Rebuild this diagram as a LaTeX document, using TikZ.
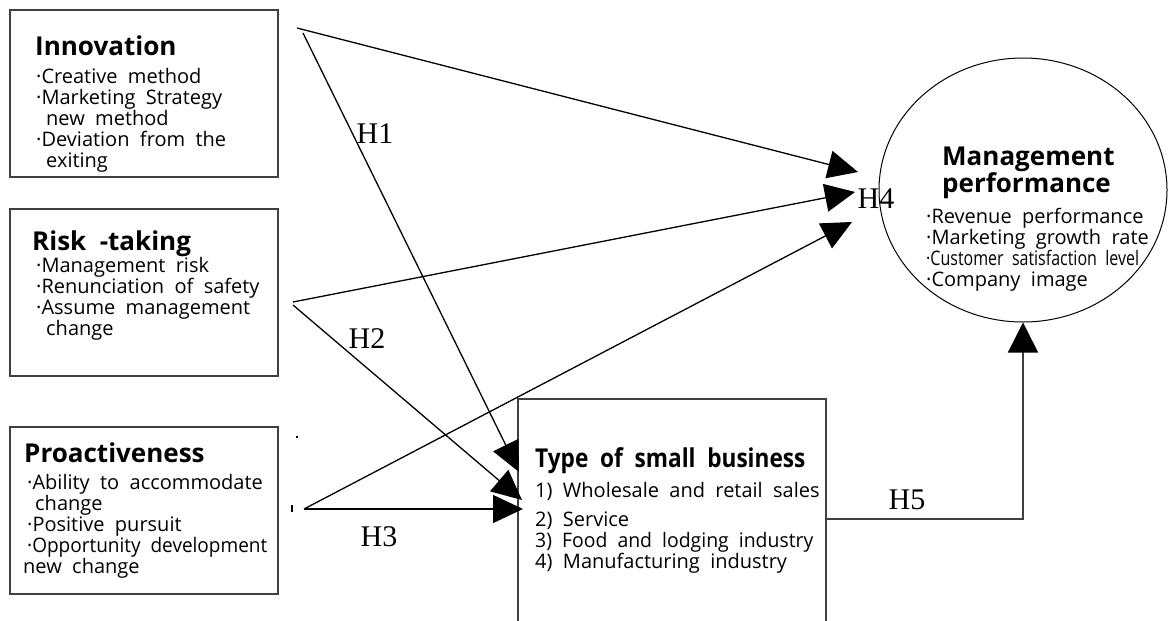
\documentclass[tikz,border=0pt]{standalone}
\usepackage{fontspec}
\setmainfont[WordSpace=2]{Open Sans}
\newfontfamily\hfont{Liberation Serif}
\usetikzlibrary{arrows.meta,shapes.geometric}
\definecolor{boxgray}{HTML}{404040}
\tikzset{
  box/.style={draw=boxgray, line width=1.5pt, rectangle, inner sep=0pt, anchor=north west},
  ttl/.style={anchor=base west, inner sep=0pt, align=left, font=\fontsize{26}{27}\bfseries\selectfont},
  body/.style={anchor=base west, inner sep=0pt, align=left, font=\fontsize{20}{21}\selectfont},
  hlab/.style={inner sep=0pt, font=\hfont\fontsize{30}{30}\selectfont},
  arr/.style={-{Triangle[length=30pt,width=28pt]}, line width=1.3pt},
}
\begin{document}
\begin{tikzpicture}[x=1pt,y=-1pt]
\useasboundingbox (0,0) rectangle (1170,621);
% boxes
\node[box, minimum width=268pt, minimum height=167pt] (inno) at (9,9) {};
\node[box, minimum width=268pt, minimum height=167pt] (risk) at (9,208) {};
\node[box, minimum width=268pt, minimum height=167pt] (proa) at (9,426) {};
\node[box, minimum width=308pt, minimum height=240pt] (type) at (517,398) {};
\node[draw, ellipse, line width=1pt, minimum width=288pt, minimum height=264pt, inner sep=0pt] (perf) at (1023,190) {};
% texts (anchor base = baseline of the last line)
\node[ttl] (innoT) at (35,55) {Innovation};
\node[body] (innoB) at (36,167) {·Creative method\\·Marketing Strategy\\\hspace*{10pt}new method\\·Deviation from the\\\hspace*{10pt}exiting};
\node[ttl] (riskT) at (32,250) {Risk -taking};
\node[body] (riskB) at (36,335) {·Management risk\\·Renunciation of safety\\·Assume management\\\hspace*{10pt}change};
\node[ttl] (proaT) at (24,462) {Proactiveness};
\node[body] (proaB) at (27,573) {·Ability to accommodate\\\hspace*{8pt}change\\·Positive pursuit\\\scalebox{0.95}[1]{·Opportunity development}\\\hspace*{-4pt}new change};
\node[ttl] (typeT) at (535,467) {\scalebox{0.87}[1]{Type of small business}};
\node[body] (typeB) at (535,568) {1) Wholesale and retail sales\\[8pt]2) Service\\\scalebox{0.97}[1]{3) Food and lodging industry}\\4) Manufacturing industry};
\node[ttl] (perfT) at (942,192) {Management\\performance};
\node[body] (perfB) at (926,286) {·Revenue performance\\·Marketing growth rate\\\scalebox{0.8}[1]{·Customer satisfaction level}\\·Company image};
% connector end points
\coordinate (s1) at (297,28);
\coordinate (s1b) at (303,33);
\coordinate (s2) at (293,302);
\coordinate (s2b) at (293,305);
\coordinate (s3) at (304,509);
\coordinate (e1) at (858,172);
\coordinate (e2) at (855,192);
\coordinate (e3) at (852,222);
\coordinate (t1) at (519,472);
\coordinate (t2) at (522,500);
\coordinate (t3) at (523,509);
\coordinate (h5a) at (825,519);
\coordinate (h5b) at (1023,519);
% connectors
\draw[arr] (s1) -- (e1);
\draw[arr] (s2) -- (e2);
\draw[arr] (s3) -- (e3);
\draw[arr] (s1b) -- (t1);
\draw[arr] (s2b) -- (t2);
\draw[arr] (s3) -- (t3);
\draw[-{Triangle[length=30pt,width=30pt,black]}, draw=boxgray, line width=1.5pt] (h5a) -- (h5b) -- (perf.south);
% labels
\node[hlab] (H1) at (375,134) {H1};
\node[hlab] (H2) at (367,339) {H2};
\node[hlab] (H3) at (379,537) {H3};
\node[hlab] (H4) at (876,199) {H4};
\node[hlab] (H5) at (907,500) {H5};
% stray marks
\fill (296,436) rectangle (298,438);
\fill (291,505) rectangle (293,512);
\end{tikzpicture}
\end{document}
